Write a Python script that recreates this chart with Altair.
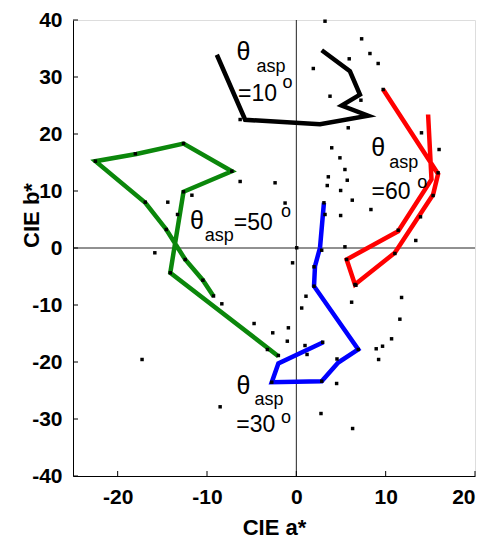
import altair as alt
import pandas as pd

# ---- line series (CIE a*, CIE b*) in drawing order ----
black_a = [-8.9, -5.73, 2.65, 8.04, 5.07, 7.12, 6.0, 2.84]
black_b = [33.9, 22.5, 21.7, 23.2, 25.0, 26.9, 31.0, 34.7]
red_a = [9.72, 15.87, 15.31, 11.03, 6.56, 5.63, 11.4, 15.13, 14.75]
red_b = [27.8, 13.0, 9.39, -0.84, -6.4, -2.02, 2.95, 12.02, 23.42]
green_a = [-9.27, -10.46, -12.44, -14.56, -16.9, -22.49, -17.9, -12.63, -7.22, -12.63, -14.11, -2.01]
green_b = [-8.46, -5.65, -2.02, 3.25, 7.93, 15.23, 16.5, 18.33, 13.47, 9.86, -4.35, -18.98]
blue_a = [3.09, 2.65, 2.09, 1.98, 6.93, 4.69, 2.84, -2.75, -2.01, 3.02]
blue_b = [7.93, 0.04, -3.19, -6.70, -17.8, -20.1, -23.37, -23.54, -20.26, -16.53]

# ---- scattered measurement points ----
dot_a = [3.21, 7.31, 8.24, 5.92, 9.16, 1.90, 3.77, 7.23, 5.81, 9.72, 14.01, 3.96, 15.98, 4.88,
         5.44, 5.70, 3.58, 3.46, 4.96, 6.26, 8.35, 4.96, 3.21, 15.87, 15.31, 13.90, 11.40, 13.37,
         11.03, 5.44, 5.63, 0.04, 2.84, 1.98, -0.42, -2.38, -1.26, -6.29, -11.69, -14.39, -13.30,
         -14.56, -15.84, -12.44, -10.46, -9.27, -8.34, -18.02, -16.91, 1.08, 0.60, 6.19, 11.78,
         11.59, -4.73, -2.64, -0.89, -1.01, -3.24, 0.97, 1.20, 10.66, 9.65, 8.94, 9.21, 4.55, 4.51,
         2.76, 6.30, -17.27, -8.53, 6.67, 6.93, -2.01, 2.95, -6.29, -12.63, -7.22, -12.63, -14.11,
         -22.49, 3.09, 1.98, 2.84, -2.75, 6.56]
dot_b = [39.79, 36.70, 34.12, 33.19, 32.37, 31.49, 26.63, 25.93, 21.09, 27.81, 20.21, 17.58, 17.28,
         15.82, 13.77, 11.89, 12.49, 10.96, 10.09, 8.39, 6.75, 5.70, 5.88, 13.19, 9.21, 5.47, 3.12,
         1.32, -0.96, 0.21, -2.02, 0.04, -0.39, -3.30, -2.60, 11.44, 7.89, 11.67, 9.26, 8.04, 5.88,
         3.25, -0.84, -2.02, -5.65, -8.42, -9.79, 16.53, 8.04, -8.46, -10.53, -9.51, -8.68, -12.49,
         -13.25, -14.88, -14.0, -16.35, -17.81, -17.11, -18.68, -15.93, -17.23, -17.68, -19.56,
         -19.47, -23.77, -29.04, -31.67, -19.56, -27.86, -6.53, -17.8, -18.86, -16.53, 22.54, 18.33,
         13.47, 9.86, -4.35, 15.23, 7.93, -6.70, -23.37, -23.54, -6.4]

# ---- annotation texts ----
ann_text = ["θ", "asp", "=10", "o",
            "θ", "asp", "=50", "o",
            "θ", "asp", "=60", "o",
            "θ", "asp", "=30", "o"]
ann_a = [-5.92, -2.83, -4.34, -0.98,
         -11.13, -8.64, -4.81, -1.15,
         9.16, 12.03, 10.61, 14.1,
         -5.92, -3.05, -4.53, -1.15]
ann_b = [34.39, 31.84, 27.1, 29.03,
         4.70, 2.07, 4.42, 6.23,
         17.46, 14.95, 9.82, 11.49,
         -24.25, -26.58, -31.1, -29.9]
ann_size = [25, 18, 23, 18] * 4

x_ticks = [-20, -10, 0, 10, 20]
y_ticks = [-40, -30, -20, -10, 0, 10, 20, 30, 40]

series_names = ["s10", "s60", "s50", "s30"]
series_colors = ["#000000", "#ff0000", "#0b870b", "#0000ff"]

rows = []
for name, aa, bb in zip(series_names, [black_a, red_a, green_a, blue_a],
                        [black_b, red_b, green_b, blue_b]):
    for i, (a, b) in enumerate(zip(aa, bb)):
        rows.append({"series": name, "idx": i, "a": a, "b": b})
lines_df = pd.DataFrame(rows)
dots_df = pd.DataFrame({"a": dot_a, "b": dot_b})
ann_df = pd.DataFrame({"text": ann_text, "a": ann_a, "b": ann_b, "fs": ann_size})
xt_df = pd.DataFrame({"a": x_ticks})
yt_df = pd.DataFrame({"b": y_ticks})

W, H = 402, 456
FONT = "Liberation Sans"

xs = alt.Scale(domain=[-25, 20], nice=False, zero=False)
ys = alt.Scale(domain=[-40, 40], nice=False, zero=False)
xaxis = alt.Axis(values=x_ticks, title="CIE a*", grid=False, tickSize=0, labelPadding=10,
                 labelExpr="'' + datum.value",
                 domainColor="black", labelFontSize=21, labelFontWeight="bold", labelColor="black",
                 titleFontSize=22, titleFontWeight="bold", titleColor="black",
                 titleY=58, titleBaseline="alphabetic", labelFont=FONT, titleFont=FONT)
yaxis = alt.Axis(values=y_ticks, title="CIE b*", grid=False, tickSize=0, labelPadding=11,
                 labelExpr="'' + datum.value",
                 domainColor="black", labelFontSize=21, labelFontWeight="bold", labelColor="black",
                 titleFontSize=22, titleFontWeight="bold", titleColor="black",
                 titleX=-30, titleY=195, labelFont=FONT, titleFont=FONT)

X = alt.X("a:Q", scale=xs, axis=xaxis)
Y = alt.Y("b:Q", scale=ys, axis=yaxis)

vzero = alt.Chart(xt_df).transform_filter("datum.a == 0").mark_rule(
    color="#222222", strokeWidth=1).encode(x=X, y=alt.value(0), y2=alt.value(H))
hzero = alt.Chart(yt_df).transform_filter("datum.b == 0").mark_rule(
    color="#222222", strokeWidth=1).encode(y=Y, x=alt.value(0), x2=alt.value(W))
xtick = alt.Chart(xt_df).mark_rule(color="black", strokeWidth=1).encode(
    x=X, y=alt.value(H), y2=alt.value(H - 5))
ytick = alt.Chart(yt_df).mark_rule(color="black", strokeWidth=1).encode(
    y=Y, x=alt.value(0), x2=alt.value(5))

lines = alt.Chart(lines_df).mark_line(strokeWidth=4.5, strokeJoin="miter").encode(
    x=X, y=Y, order="idx:Q", detail="series:N",
    color=alt.Color("series:N", scale=alt.Scale(domain=series_names, range=series_colors),
                    legend=None))
dots = alt.Chart(dots_df).mark_square(size=12, color="black", opacity=1).encode(x=X, y=Y)
texts = alt.Chart(ann_df).mark_text(font=FONT, color="black", align="center",
                                    baseline="middle").encode(
    x=X, y=Y, text="text:N", size=alt.Size("fs:Q", scale=None))

chart = alt.layer(vzero, hzero, xtick, ytick, lines, dots, texts).properties(
    width=W, height=H,
    autosize=alt.AutoSizeParams(type="none"),
    padding={"left": 65, "top": 12, "right": 15, "bottom": 66},
).configure_view(stroke=None).configure(background="white")

chart.save("out.html", embed_options={"renderer": "svg", "actions": False})
